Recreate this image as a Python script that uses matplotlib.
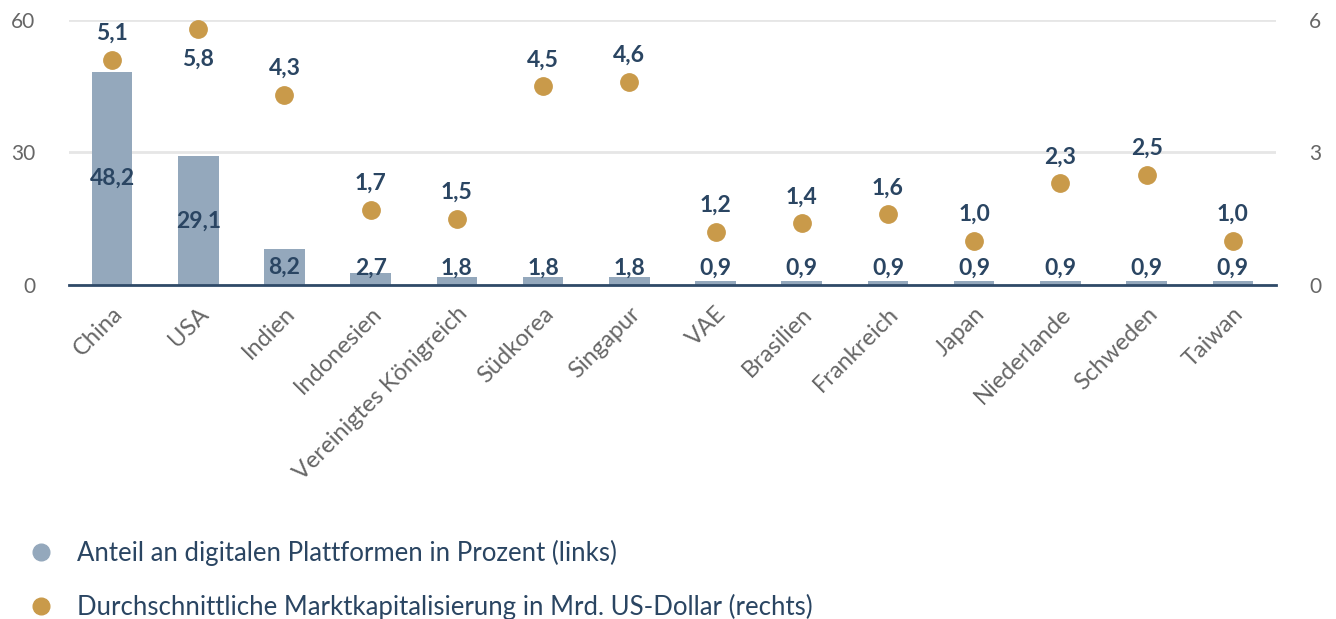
import matplotlib
matplotlib.use("Agg")
import matplotlib.pyplot as plt
from matplotlib.lines import Line2D

plt.rcParams['font.family'] = ['Lato', 'DejaVu Sans']

# ----------------------------------------------------------------------------
# Data
# ----------------------------------------------------------------------------
countries = ["China", "USA", "Indien", "Indonesien", "Vereinigtes Königreich",
             "Südkorea", "Singapur", "VAE", "Brasilien", "Frankreich", "Japan",
             "Niederlande", "Schweden", "Taiwan"]
share_pct = [48.2, 29.1, 8.2, 2.7, 1.8, 1.8, 1.8, 0.9, 0.9, 0.9, 0.9, 0.9, 0.9, 0.9]
market_cap = [5.1, 5.8, 4.3, 1.7, 1.5, 4.5, 4.6, 1.2, 1.4, 1.6, 1.0, 2.3, 2.5, 1.0]

legend_labels = ["Anteil an digitalen Plattformen in Prozent (links)",
                 "Durchschnittliche Marktkapitalisierung in Mrd. US-Dollar (rechts)"]

# colours
bar_color = "#94a8bc"
dot_color = "#c99a4a"
label_color = "#2a4562"
tick_color = "#666666"
axis_color = "#2f4a68"
grid_color = "#e6e6e6"


def fmt(v):
    return f"{v:.1f}".replace(".", ",")


fig = plt.figure(figsize=(13.36, 6.19), dpi=100)
ax = fig.add_axes([0.0516, 0.5396, 0.9034, 0.4281])
ax2 = ax.twinx()

x = list(range(len(countries)))

# bars (left axis)
ax.bar(x, share_pct, width=0.47, color=bar_color, zorder=2)
for xi, v in zip(x, share_pct):
    ax.text(xi, max(v / 2, 3.9), fmt(v), ha='center', va='center',
            fontsize=16.5, fontweight='bold', color=label_color, zorder=4)

ax.set_xlim(-0.5, len(countries) - 0.5)
ax.set_ylim(0, 60)
ax.set_yticks([0, 30, 60])
ax.yaxis.grid(True, color=grid_color, linewidth=2)
ax.set_axisbelow(True)
ax.tick_params(axis='y', length=0, pad=24, labelsize=15, labelcolor=tick_color)
ax.set_xticks(x)
ax.set_xticklabels(countries, rotation=45, ha='right', rotation_mode='anchor',
                   fontsize=17, color=tick_color)
ax.tick_params(axis='x', length=0, pad=13)
for side in ['top', 'left', 'right']:
    ax.spines[side].set_visible(False)
ax.spines['bottom'].set_color(axis_color)
ax.spines['bottom'].set_linewidth(2)

# dots (right axis)
ax2.plot(x, market_cap, linestyle='none', marker='o', markersize=12.5,
         color=dot_color, zorder=3)
for xi, v in zip(x, market_cap):
    if v > 5.5:
        ax2.annotate(fmt(v), (xi, v), xytext=(0, -22), textcoords='offset points',
                     ha='center', va='center', fontsize=16.5, fontweight='bold',
                     color=label_color)
    else:
        ax2.annotate(fmt(v), (xi, v), xytext=(0, 19), textcoords='offset points',
                     ha='center', va='center', fontsize=16.5, fontweight='bold',
                     color=label_color)
ax2.set_ylim(0, 6)
ax2.set_yticks([0, 3, 6])
ax2.tick_params(axis='y', length=0, pad=24, labelsize=15, labelcolor=tick_color)
for side in ['top', 'left', 'right', 'bottom']:
    ax2.spines[side].set_visible(False)

# legend
handles = [Line2D([], [], linestyle='none', marker='o', markersize=12, color=bar_color),
           Line2D([], [], linestyle='none', marker='o', markersize=12, color=dot_color)]
leg = fig.legend(handles, legend_labels, loc='upper left',
                 bbox_to_anchor=(0.004, 0.165), frameon=False, fontsize=18.5,
                 labelspacing=1.1, handletextpad=0.9, handlelength=1.0,
                 labelcolor=label_color)

fig.savefig("out.png", dpi=100)
